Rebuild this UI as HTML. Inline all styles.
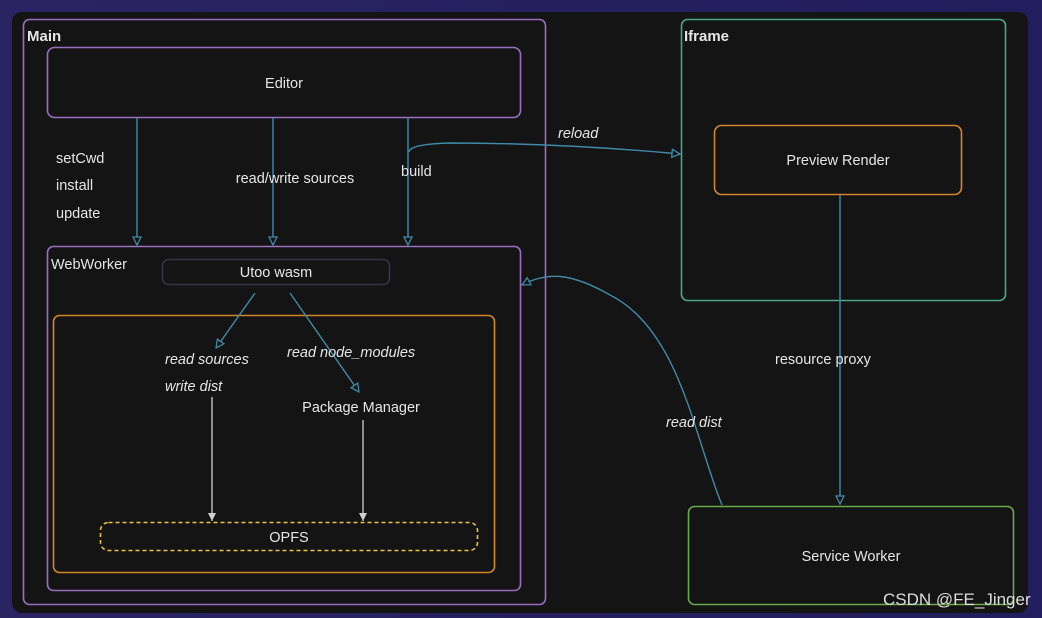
<!DOCTYPE html>
<html><head><meta charset="utf-8"><style>
html,body{margin:0;padding:0;width:1042px;height:618px;overflow:hidden;background:#25215a;}
svg{display:block;font-family:"Liberation Sans",sans-serif;}
</style></head><body>
<svg width="1042" height="618" viewBox="0 0 1042 618" xmlns="http://www.w3.org/2000/svg">
<defs>
<linearGradient id="bg" x1="0" y1="0" x2="1" y2="0"><stop offset="0" stop-color="#2a2462"/><stop offset="1" stop-color="#221d5c"/></linearGradient>
<marker id="open" viewBox="0 0 10 10" refX="9" refY="5" markerWidth="10" markerHeight="10" orient="auto" markerUnits="userSpaceOnUse"><path d="M1,1 L9,5 L1,9 Z" fill="#141414" stroke="#3f8aa8" stroke-width="1.3"/></marker>
<marker id="fill" viewBox="0 0 10 10" refX="9" refY="5" markerWidth="10" markerHeight="10" orient="auto" markerUnits="userSpaceOnUse"><path d="M1,1 L9,5 L1,9 Z" fill="#cfcfcf"/></marker>
</defs>
<rect width="1042" height="618" fill="url(#bg)"/>
<rect x="12" y="12" width="1016" height="601" rx="10" fill="#141414"/>
<g fill="none" stroke-width="1.6">
<rect x="23.5" y="19.5" width="522" height="585" rx="6" stroke="#9a6fbf"/>
<rect x="47.5" y="47.5" width="473" height="70" rx="7" stroke="#9a6fbf"/>
<rect x="47.5" y="246.5" width="473" height="344" rx="6" stroke="#9a6fbf"/>
<rect x="162.5" y="259.5" width="227" height="25" rx="6" stroke="#3b3048"/>
<rect x="53.5" y="315.5" width="441" height="257" rx="6" stroke="#d4852a"/>
<rect x="100.5" y="522.5" width="377" height="28" rx="8" stroke="#e6c53a" stroke-dasharray="4,3"/>
<rect x="681.5" y="19.5" width="324" height="281" rx="6" stroke="#47a98a"/>
<rect x="714.5" y="125.5" width="247" height="69" rx="7" stroke="#d4852a"/>
<rect x="688.5" y="506.5" width="325" height="98" rx="6" stroke="#6ba84a"/>
</g>
<g fill="none" stroke="#3f8aa8" stroke-width="1.4">
<line x1="137" y1="118" x2="137" y2="245" marker-end="url(#open)"/>
<line x1="273" y1="118" x2="273" y2="245" marker-end="url(#open)"/>
<line x1="408" y1="118" x2="408" y2="245" marker-end="url(#open)"/>
<path d="M409,152 Q410,144 450,143 Q560,143 680,154" marker-end="url(#open)"/>
<line x1="840" y1="195" x2="840" y2="504" marker-end="url(#open)"/>
<path d="M722,505 C695,440 680,330 610,295 C575,275 550,270 522,285" marker-end="url(#open)"/>
<line x1="255" y1="293" x2="216" y2="348" marker-end="url(#open)"/>
<line x1="290" y1="293" x2="359" y2="392" marker-end="url(#open)"/>
</g>
<g stroke="#cfcfcf" stroke-width="1.3">
<line x1="212" y1="397" x2="212" y2="521" marker-end="url(#fill)"/>
<line x1="363" y1="420" x2="363" y2="521" marker-end="url(#fill)"/>
</g>
<g fill="#e6e6e6" font-size="14.5">
<text x="27" y="41" font-weight="bold" font-size="15">Main</text>
<text x="684" y="41" font-weight="bold" font-size="15">Iframe</text>
<text x="284" y="88" text-anchor="middle">Editor</text>
<text x="56" y="163">setCwd</text>
<text x="56" y="190">install</text>
<text x="56" y="218">update</text>
<text x="295" y="183" text-anchor="middle">read/write sources</text>
<text x="401" y="176">build</text>
<text x="558" y="138" font-style="italic">reload</text>
<text x="838" y="165" text-anchor="middle">Preview Render</text>
<text x="51" y="269">WebWorker</text>
<text x="276" y="277" text-anchor="middle">Utoo wasm</text>
<text x="165" y="364" font-style="italic">read sources</text>
<text x="165" y="391" font-style="italic">write dist</text>
<text x="287" y="357" font-style="italic">read node_modules</text>
<text x="361" y="412" text-anchor="middle">Package Manager</text>
<text x="289" y="542" text-anchor="middle">OPFS</text>
<text x="775" y="364">resource proxy</text>
<text x="666" y="427" font-style="italic">read dist</text>
<text x="851" y="561" text-anchor="middle">Service Worker</text>
<text x="883" y="605" font-size="17" fill="#dcdcdc">CSDN @FE_Jinger</text>
</g>
</svg>
</body></html>
